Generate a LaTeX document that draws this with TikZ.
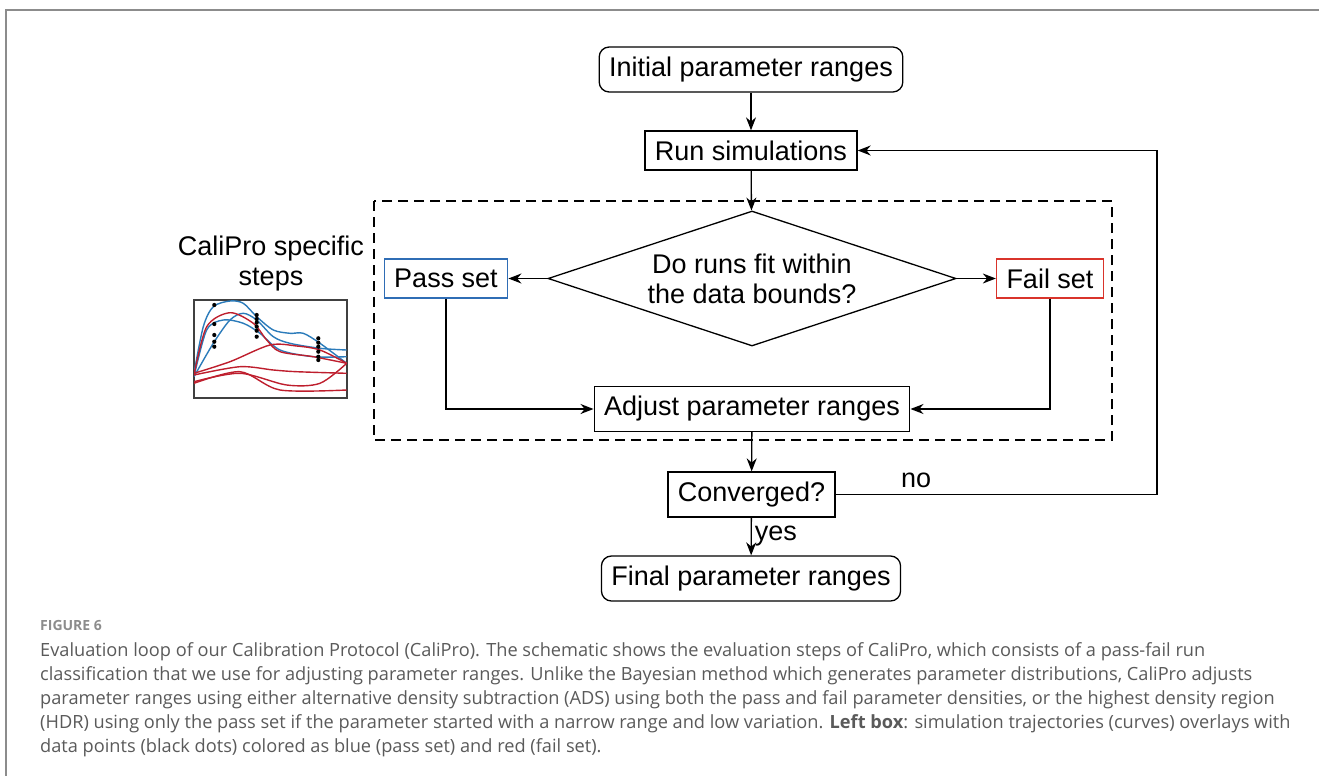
\documentclass[tikz,border=0pt]{standalone}
\usepackage{fontspec}
\setmainfont{Liberation Sans}
\newfontfamily\capfont{Open Sans}
\usetikzlibrary{shapes.geometric,arrows.meta}
\definecolor{passblue}{HTML}{2F6DB5}
\definecolor{failred}{HTML}{D9342B}
\definecolor{curveblue}{HTML}{2B7BBA}
\definecolor{curvered}{HTML}{BE1E2D}
\definecolor{framegray}{HTML}{8C8C8C}
\definecolor{captext}{HTML}{5A5A5A}
\tikzset{
  stepbox/.style={draw, line width=1.3pt, inner xsep=10pt, minimum height=39pt,
    font=\fontsize{27}{30}\selectfont},
  endbox/.style={stepbox, rounded corners=10pt},
  flow/.style={line width=1.3pt, -{Stealth[length=13pt,width=10pt]}},
  curve/.style={line width=1.4pt, smooth},
}
\begin{document}
\begin{tikzpicture}[x=1pt,y=-1pt]
\useasboundingbox (0,0) rectangle (1319,776);
% frame of the figure
\draw[framegray, line width=2pt] (1319,10) -- (6,10) -- (6,776);

\node[endbox, minimum height=45pt] (init) at (751,69.5) {Initial parameter ranges};
\node[stepbox] (run) at (751,150.5) {Run simulations};
\node[diamond, draw, line width=1.3pt, aspect=3, minimum width=408pt, minimum height=135pt,
  inner sep=0pt, align=center, font=\fontsize{27}{30}\selectfont] (fit) at (752,278.5)
  {Do runs fit within\\the data bounds?};
\node[stepbox, draw=passblue] (pass) at (446,278.5) {Pass set};
\node[stepbox, draw=failred] (fail) at (1050,278.5) {Fail set};
\node[stepbox, minimum height=45pt] (adjust) at (752,409) {Adjust parameter ranges};
\node[stepbox, minimum height=45pt] (conv) at (751.5,494.5) {Converged?};
\node[endbox, minimum height=45pt] (final) at (751,578.5) {Final parameter ranges};
\coordinate (back) at (1157,494.5);

% CaliPro part
\draw[dashed, line width=1.1pt, dash pattern=on 10pt off 6pt] (374,201) rectangle (1112,440);

\draw[flow] (init) -- (run);
\draw[flow] (run) -- (fit);
\draw[flow] (fit) -- (pass);
\draw[flow] (fit) -- (fail);
\draw[flow] (pass) |- (adjust);
\draw[flow] (fail) |- (adjust);
\draw[flow] (adjust) -- (conv);
\draw[flow] (conv) -- node[right, inner sep=3pt, font=\fontsize{27}{30}\selectfont] {yes} (final);
\draw[flow] (conv) -- node[pos=0.25, above, inner sep=6pt, font=\fontsize{27}{30}\selectfont] {no} (back) |- (run);

% left box with the trajectories
\node[align=center, font=\fontsize{27}{30}\selectfont] (steps) at (271,264) {CaliPro specific\\steps};
\node[draw, line width=1.2pt, black!75, minimum width=153pt, minimum height=98pt, inner sep=0pt] (plot) at (270.5,349) {};
\begin{scope}
\clip (194,300) rectangle (347,398);
\draw[curve, curveblue] plot coordinates {(194,373.3) (203.3,326.7) (213.3,306.7) (230,301) (243.3,303.3) (256.7,316.7) (273.3,330) (290,333.3) (303.3,333.3) (320,343.3) (346.7,363.3)};
\draw[curve, curveblue] plot coordinates {(194,376.7) (213.3,343.3) (230,320) (243.3,313.3) (256.7,320) (273.3,336.7) (290,343.3) (320,348.3) (346.7,350)};
\draw[curve, curveblue] plot coordinates {(194,376.7) (206.7,330) (223.3,320) (243.3,323.3) (260,333.3) (280,350) (313.3,356.7) (346.7,356.7)};
\draw[curve, curvered] plot coordinates {(194,375) (206.7,326.7) (230,312.7) (253.3,323.3) (266.7,340) (280,351.7) (313.3,356.7) (346.7,363.3)};
\draw[curve, curvered] plot coordinates {(194,373.3) (230,361.7) (270,345) (296.7,346) (320,350) (346.7,363.3)};
\draw[curve, curvered] plot coordinates {(194,375) (240,366.7) (273.3,370) (296.7,371.7) (346.7,373.3)};
\draw[curve, curvered] plot coordinates {(194,381.7) (240,373.3) (286.7,385) (320,383.3) (346.7,363.3)};
\draw[curve, curvered] plot coordinates {(194,383.3) (240,371.7) (280,390) (346.7,390)};
\end{scope}
\foreach \y in {305,324,335,341.7,346.7} \fill (214.3,\y) circle (2.1pt);
\foreach \y in {315,319,322.7,326.7,330.7,336.7} \fill (256.7,\y) circle (2.1pt);
\foreach \y in {338.3,342.7,346.7,351.7,356.7,360} \fill (318.3,\y) circle (2.1pt);

% caption
\node[anchor=base west, inner sep=0pt, text=framegray, font=\capfont\bfseries\fontsize{14}{16}\selectfont] (fignum) at (40,630) {FIGURE 6};
\node[anchor=north west, align=left, inner sep=0pt, text=captext, font=\capfont\fontsize{18.2}{24}\selectfont] (caption) at (40,642)
{Evaluation loop of our Calibration Protocol (CaliPro). The schematic shows the evaluation steps of CaliPro, which consists of a pass-fail run\\
classification that we use for adjusting parameter ranges. Unlike the Bayesian method which generates parameter distributions, CaliPro adjusts\\
parameter ranges using either alternative density subtraction (ADS) using both the pass and fail parameter densities, or the highest density region\\
(HDR) using only the pass set if the parameter started with a narrow range and low variation. \textbf{Left box}: simulation trajectories (curves) overlays with\\
data points (black dots) colored as blue (pass set) and red (fail set).};
\end{tikzpicture}
\end{document}
